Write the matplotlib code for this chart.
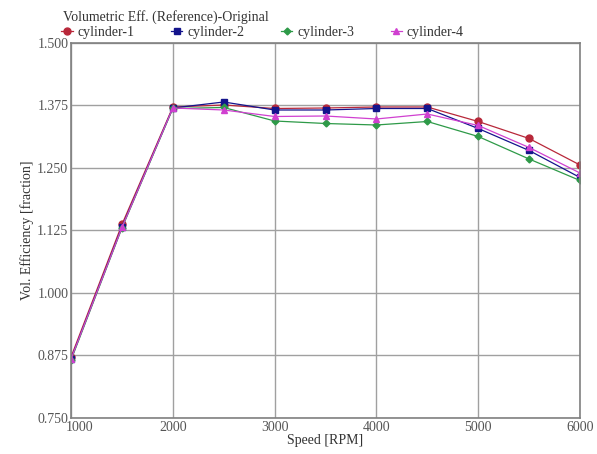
import matplotlib
matplotlib.use("Agg")
import matplotlib.pyplot as plt
from matplotlib.lines import Line2D
from matplotlib.transforms import ScaledTranslation

plt.rcParams['font.family'] = ['Liberation Serif', 'DejaVu Serif']

speed = [1000, 1500, 2000, 2500, 3000, 3500, 4000, 4500, 5000, 5500, 6000]
cyl1 = [0.872, 1.137, 1.372, 1.376, 1.369, 1.370, 1.372, 1.372, 1.343, 1.309, 1.256]
cyl2 = [0.868, 1.132, 1.370, 1.382, 1.366, 1.366, 1.369, 1.369, 1.329, 1.285, 1.231]
cyl3 = [0.866, 1.130, 1.369, 1.371, 1.344, 1.339, 1.336, 1.343, 1.313, 1.268, 1.225]
cyl4 = [0.868, 1.131, 1.370, 1.366, 1.353, 1.354, 1.348, 1.358, 1.335, 1.291, 1.240]
names = ["cylinder-1", "cylinder-2", "cylinder-3", "cylinder-4"]
yticks = [0.750, 0.875, 1.000, 1.125, 1.250, 1.375, 1.500]
xticks = [1000, 2000, 3000, 4000, 5000, 6000]

colors = ["#b8283a", "#14148c", "#2e9a48", "#d040d0"]
markers = ["o", "s", "D", "^"]
msizes = [5, 5, 3.5, 4]

fig = plt.figure(figsize=(5.97, 4.54), dpi=100)
ax = fig.add_axes([0.119, 0.0793, 0.8525, 0.826])

series = [cyl1, cyl2, cyl3, cyl4]
for s, c, m, ms in zip(series, colors, markers, msizes):
    ax.plot(speed, s, color=c, marker=m, markersize=ms, linewidth=0.9)

ax.set_xlim(1000, 6000)
ax.set_ylim(0.75, 1.5)
ax.set_xticks(xticks)
ax.set_yticks(yticks)
ax.set_yticklabels([f"{v:.3f}" for v in yticks])
ax.grid(True, color="#a0a0a0", linewidth=1.0)
ax.set_axisbelow(True)
for sp in ax.spines.values():
    sp.set_color("#808080")
    sp.set_linewidth(1.2)
ax.tick_params(axis='both', length=0, labelsize=10, colors="#555555", pad=2)
first = ax.get_xticklabels()[0]
first.set_transform(first.get_transform() + ScaledTranslation(9/100, 0, fig.dpi_scale_trans))
ax.set_xlabel("Speed [RPM]", fontsize=10, labelpad=0, color="#333333")
ax.set_ylabel("Vol. Efficiency [fraction]", fontsize=10, labelpad=2, color="#333333")

fig.text(0.105, 0.962, "Volumetric Eff. (Reference)-Original", fontsize=10, color="#333333", va="center")
handles = [Line2D([], [], color=c, marker=m, markersize=ms, linewidth=0.9)
           for c, m, ms in zip(colors, markers, msizes)]
fig.legend(handles, names, loc="center left", bbox_to_anchor=(0.103, 0.928), ncol=4,
           frameon=False, fontsize=10, handlelength=0.8, handletextpad=0.35,
           columnspacing=2.65, borderpad=0, borderaxespad=0, labelcolor="#333333")

fig.savefig("out.png", dpi=100)
